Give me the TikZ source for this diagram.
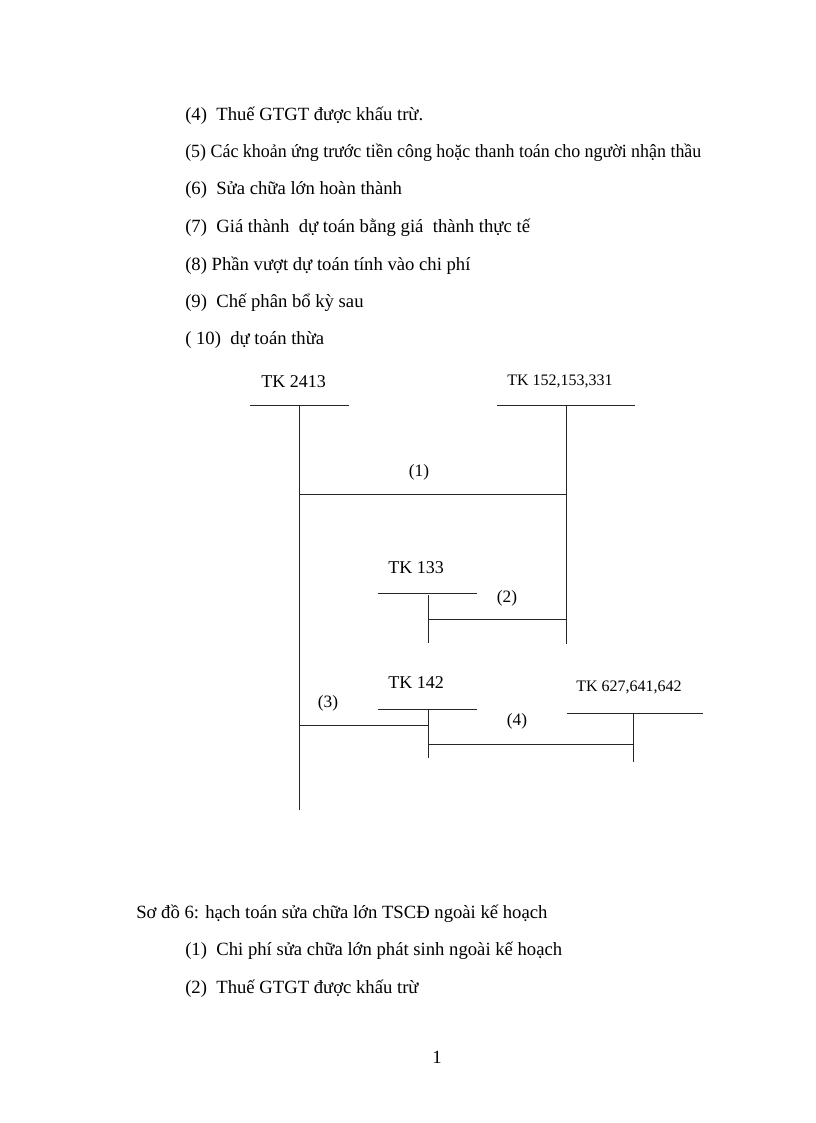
\documentclass[tikz,border=0pt]{standalone}
\usepackage{graphicx}
\usepackage{fontspec}
\setmainfont{Liberation Serif}
\begin{document}
\begin{tikzpicture}[x=0.75pt,y=-0.75pt,
  txt/.style={anchor=base west,inner sep=0pt,font=\fontsize{14}{16}\selectfont},
  tk/.style={inner sep=0pt,font=\fontsize{13.5}{15}\selectfont},
  tks/.style={inner sep=0pt,font=\fontsize{12}{14}\selectfont},
  lab/.style={inner sep=0pt,font=\fontsize{13}{15}\selectfont},
  ln/.style={line width=0.7pt,draw=black!85}]
\fill[white] (0,0) rectangle (816,1123);
\useasboundingbox (0,0) rectangle (816,1123);
% top list
\node[txt] (t4) at (185,121) {(4)\ \ Thuế GTGT được khấu trừ.};
\node[txt] (t5) at (185,158) {\resizebox{387pt}{\height}{(5) Các khoản ứng trước tiền công hoặc thanh toán cho người nhận thầu}};
\node[txt] (t6) at (185,195) {(6)\ \ Sửa chữa lớn hoàn thành};
\node[txt] (t7) at (185,233) {(7)\ \ Giá thành\ \ dự toán bằng giá\ \ thành thực tế};
\node[txt] (t8) at (185,270) {(8) Phần vượt dự toán tính vào chi phí};
\node[txt] (t9) at (185,307) {(9)\ \ Chế phân bổ kỳ sau};
\node[txt] (t10) at (185,344) {( 10)\ \ dự toán thừa};
% account labels
\node[tk] (n2413) at (293.5,382) {TK 2413};
\node[tks] (n152) at (560,381) {TK 152,153,331};
\node[tk] (n133) at (416,568) {TK 133};
\node[tk] (n142) at (416,683) {TK 142};
\node[tks] (n627) at (629,687) {TK 627,641,642};
% T-account coordinates
\coordinate (a2413L) at (250,405); \coordinate (a2413R) at (349,405);
\coordinate (a2413T) at (299,405); \coordinate (a2413B) at (299,810);
\coordinate (a152L) at (497,405); \coordinate (a152R) at (635,405);
\coordinate (a152T) at (566,405); \coordinate (a152B) at (566,644);
\coordinate (a133L) at (378,593); \coordinate (a133R) at (477,593);
\coordinate (a133T) at (428,595); \coordinate (a133B) at (428,643);
\coordinate (a142L) at (378,709); \coordinate (a142R) at (477,709);
\coordinate (a142T) at (428,709); \coordinate (a142B) at (428,758);
\coordinate (a627L) at (567,713); \coordinate (a627R) at (703,713);
\coordinate (a627T) at (633,713); \coordinate (a627B) at (633,762);
\draw[ln] (a2413L) -- (a2413R) (a2413T) -- (a2413B);
\draw[ln] (a152L) -- (a152R) (a152T) -- (a152B);
\draw[ln] (a133L) -- (a133R) (a133T) -- (a133B);
\draw[ln] (a142L) -- (a142R) (a142T) -- (a142B);
\draw[ln] (a627L) -- (a627R) (a627T) -- (a627B);
% connectors
\draw[ln] (a2413T |- 0,494) -- (a152T |- 0,494);
\draw[ln] (a133T |- 0,619) -- (a152T |- 0,619);
\draw[ln] (a2413T |- 0,725) -- (a142T |- 0,725);
\draw[ln] (a142T |- 0,744) -- (a627T |- 0,744);
\node[lab] (l1) at (419,472) {(1)};
\node[lab] (l2) at (507,598) {(2)};
\node[lab] (l3) at (328,703) {(3)};
\node[lab] (l4) at (517,721) {(4)};
% bottom text
\node[txt] (s6) at (136,918) {Sơ đồ 6: hạch toán sửa chữa lớn TSCĐ ngoài kế hoạch};
\node[txt] (b1) at (185,955) {(1)\ \ Chi phí sửa chữa lớn phát sinh ngoài kế hoạch};
\node[txt] (b2) at (185,993) {(2)\ \ Thuế GTGT được khấu trừ};
\node[txt] (pg) at (432,1063) {1};
\end{tikzpicture}
\end{document}
